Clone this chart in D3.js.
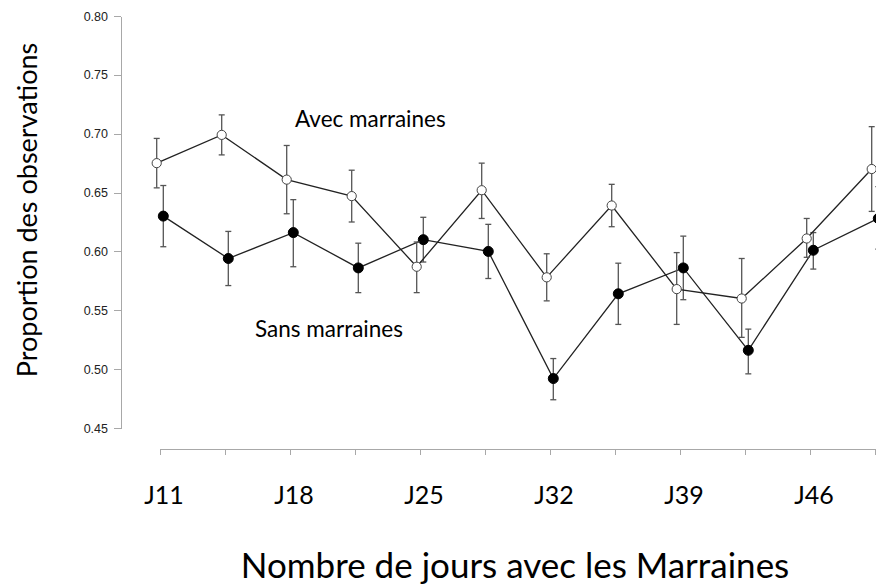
<!DOCTYPE html>
<meta charset="utf-8">
<style>
body { margin: 0; background: #fff; }
svg { display: block; }
.axis path, .axis line { fill: none; stroke: #a8a8a8; shape-rendering: crispEdges; }
.y.axis text { font: 12.5px "Liberation Sans", Arial, sans-serif; fill: #222; }
.lbl { font-family: Lato, "Open Sans", sans-serif; fill: #000; }
.line { fill: none; stroke: #222; stroke-width: 1.3px; }
.err { stroke: #555; stroke-width: 1.3px; }
</style>
<body>
<script src="https://cdnjs.cloudflare.com/ajax/libs/d3/7.8.5/d3.min.js"></script>
<script>

// jours (ticks), une etiquette sur deux
var days = ["J11", "", "J18", "", "J25", "", "J32", "", "J39", "", "J46", ""];

// Avec marraines (cercles vides)
var avec   = [0.675, 0.699, 0.661, 0.647, 0.587, 0.652, 0.578, 0.639, 0.568, 0.560, 0.611, 0.670];
var avecLo = [0.654, 0.682, 0.632, 0.625, 0.565, 0.628, 0.558, 0.621, 0.538, 0.527, 0.595, 0.634];
var avecHi = [0.696, 0.716, 0.690, 0.669, 0.608, 0.675, 0.598, 0.657, 0.599, 0.594, 0.628, 0.706];

// Sans marraines (cercles pleins)
var sans   = [0.630, 0.594, 0.616, 0.586, 0.610, 0.600, 0.492, 0.564, 0.586, 0.516, 0.601, 0.628];
var sansLo = [0.604, 0.571, 0.587, 0.565, 0.591, 0.577, 0.474, 0.538, 0.559, 0.496, 0.585, 0.602];
var sansHi = [0.656, 0.617, 0.644, 0.607, 0.629, 0.623, 0.509, 0.590, 0.613, 0.534, 0.616, 0.655];

var yTicks = [0.45, 0.50, 0.55, 0.60, 0.65, 0.70, 0.75, 0.80];

var W = 876, H = 587;

var x = d3.scaleLinear().domain([0, days.length - 1]).range([160, 875]);
var y = d3.scaleLinear().domain([0.45, 0.80]).range([428, 16]);
var dodge = 3.3;

var svg = d3.select("body").append("svg")
	.attr("width", W)
	.attr("height", H);

// axe y
svg.append("g")
	.attr("class", "y axis")
	.attr("transform", "translate(121,0)")
	.call(d3.axisLeft(y).tickValues(yTicks).tickFormat(d3.format(".2f")).tickSize(7).tickSizeOuter(0).tickPadding(6));

// axe x
svg.append("g")
	.attr("class", "x axis")
	.attr("transform", "translate(0,449)")
	.call(d3.axisBottom(x).tickValues(d3.range(days.length)).tickFormat("").tickSize(6).tickSizeOuter(0));

svg.selectAll(".daylbl")
	.data(days)
	.enter().append("text")
	.attr("class", "lbl daylbl")
	.attr("x", function(d, i) { return x(i) + 4; })
	.attr("y", 504)
	.attr("text-anchor", "middle")
	.style("font-size", "25px")
	.text(function(d) { return d; });

function series(vals, lo, hi, off, filled) {
	var g = svg.append("g");
	var line = d3.line()
		.x(function(d, i) { return x(i) + off; })
		.y(function(d) { return y(d); });

	g.append("path")
		.datum(vals)
		.attr("class", "line")
		.attr("d", line);

	var eb = g.selectAll(".eb")
		.data(vals)
		.enter().append("g")
		.attr("class", "err");

	eb.append("line")
		.attr("x1", function(d, i) { return x(i) + off; })
		.attr("x2", function(d, i) { return x(i) + off; })
		.attr("y1", function(d, i) { return y(lo[i]); })
		.attr("y2", function(d, i) { return y(hi[i]); });
	eb.append("line")
		.attr("x1", function(d, i) { return x(i) + off - 3; })
		.attr("x2", function(d, i) { return x(i) + off + 3; })
		.attr("y1", function(d, i) { return y(lo[i]); })
		.attr("y2", function(d, i) { return y(lo[i]); });
	eb.append("line")
		.attr("x1", function(d, i) { return x(i) + off - 3; })
		.attr("x2", function(d, i) { return x(i) + off + 3; })
		.attr("y1", function(d, i) { return y(hi[i]); })
		.attr("y2", function(d, i) { return y(hi[i]); });

	g.selectAll("circle")
		.data(vals)
		.enter().append("circle")
		.attr("cx", function(d, i) { return x(i) + off; })
		.attr("cy", function(d) { return y(d); })
		.attr("r", filled ? 5 : 4.6)
		.attr("fill", filled ? "#000" : "#fff")
		.attr("stroke", filled ? "#000" : "#444")
		.attr("stroke-width", 1);
}

series(sans, sansLo, sansHi, dodge, true);
series(avec, avecLo, avecHi, -dodge, false);

// annotations
svg.append("text")
	.attr("class", "lbl")
	.attr("x", 295)
	.attr("y", 127)
	.style("font-size", "22.5px")
	.text("Avec marraines");

svg.append("text")
	.attr("class", "lbl")
	.attr("x", 255)
	.attr("y", 337)
	.style("font-size", "22.5px")
	.text("Sans marraines");

// titres
svg.append("text")
	.attr("class", "lbl")
	.attr("x", 515)
	.attr("y", 578)
	.attr("text-anchor", "middle")
	.style("font-size", "35px")
	.text("Nombre de jours avec les Marraines");

svg.append("text")
	.attr("class", "lbl")
	.attr("transform", "translate(37,210) rotate(-90)")
	.attr("text-anchor", "middle")
	.style("font-size", "27px")
	.text("Proportion des observations");

</script>
